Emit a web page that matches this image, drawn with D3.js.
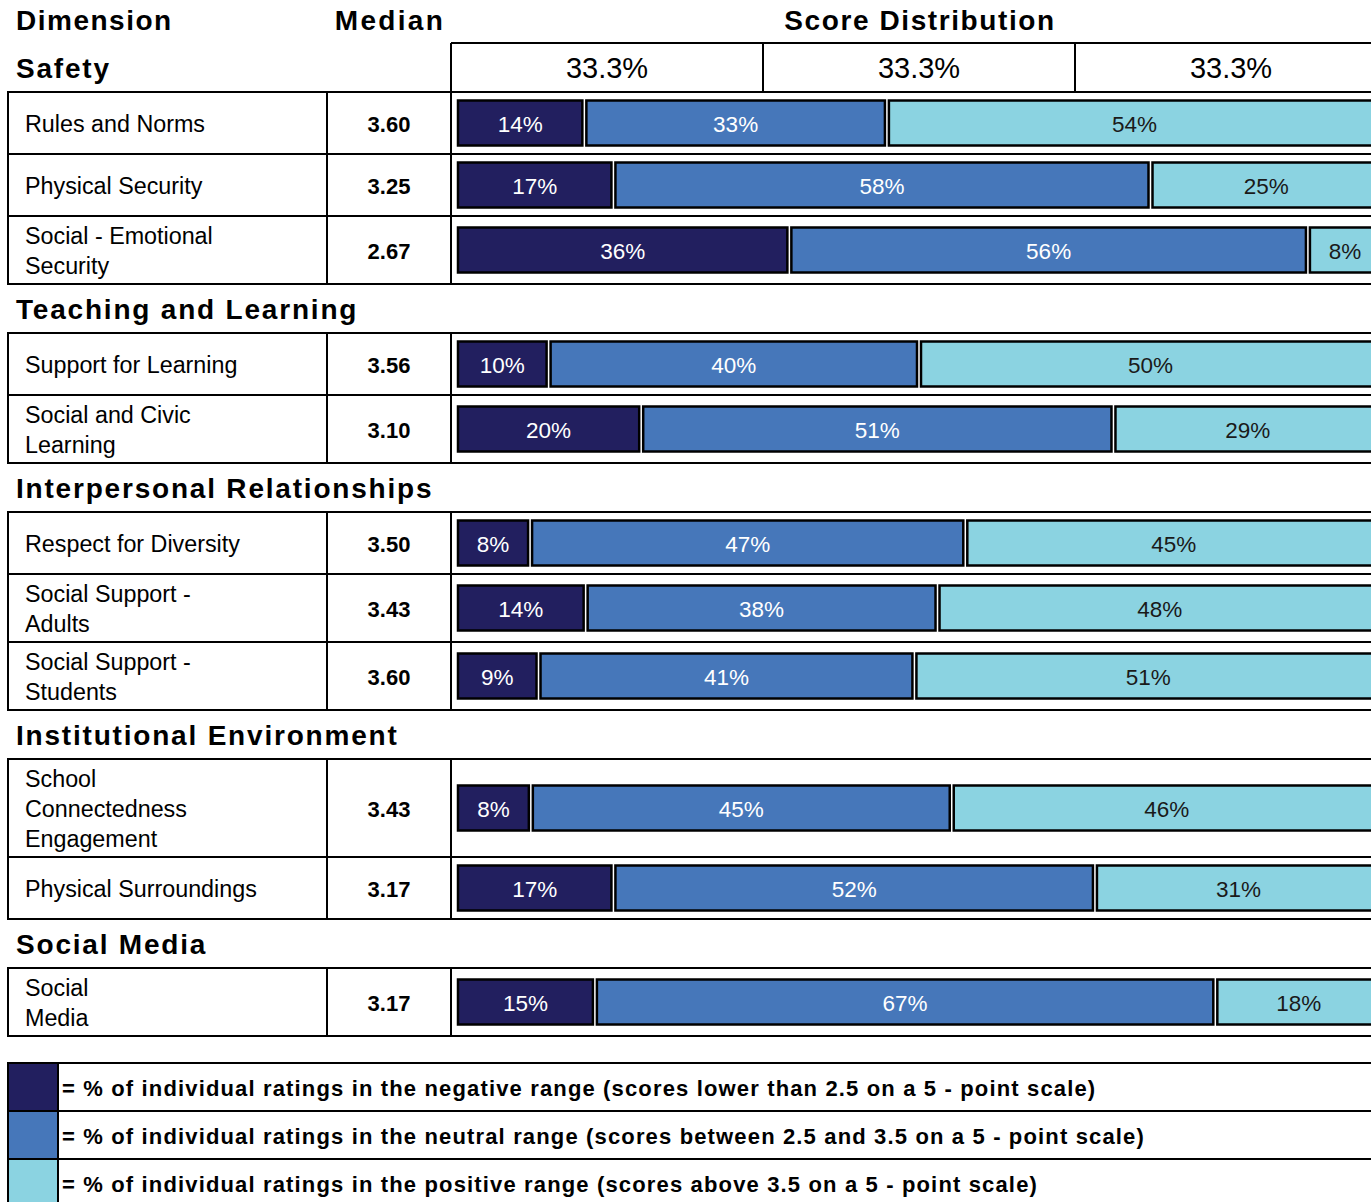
<!DOCTYPE html>
<html>
<head>
<meta charset="utf-8">
<script src="https://cdn.jsdelivr.net/npm/d3@7"></script>
<style>
  body { margin: 0; background: #fff; }
  svg text { font-family: "Liberation Sans", Arial, sans-serif; }
</style>
</head>
<body>
<svg width="1371" height="1202"></svg>
<script>
// chart values
let sections = ["Safety", "Teaching and Learning", "Interpersonal Relationships",
                "Institutional Environment", "Social Media"];
let dimensions = ["Rules and Norms", "Physical Security", "Social - Emotional\nSecurity",
                  "Support for Learning", "Social and Civic\nLearning",
                  "Respect for Diversity", "Social Support -\nAdults", "Social Support -\nStudents",
                  "School\nConnectedness\nEngagement", "Physical Surroundings",
                  "Social\nMedia"];
let dimSection = [0, 0, 0, 1, 1, 2, 2, 2, 3, 3, 4];
let medians = ["3.60", "3.25", "2.67", "3.56", "3.10", "3.50", "3.43", "3.60", "3.43", "3.17", "3.17"];
let negative = [14, 17, 36, 10, 20, 8, 14, 9, 8, 17, 15];
let neutral  = [33, 58, 56, 40, 51, 47, 38, 41, 45, 52, 67];
let positive = [54, 25, 8, 50, 29, 45, 48, 51, 46, 31, 18];
let headerShares = ["33.3%", "33.3%", "33.3%"];
let legendLabels = [
  "= % of individual ratings in the negative range (scores lower than 2.5 on a 5 - point scale)",
  "= % of individual ratings in the neutral range (scores between 2.5 and 3.5 on a 5 - point scale)",
  "= % of individual ratings in the positive range (scores above 3.5 on a 5 - point scale)"
];

var keys = ["neg", "neu", "pos"];
var color = d3.scaleOrdinal().domain(keys).range(["#221f5f", "#4677ba", "#8bd3e1"]);
var textColor = d3.scaleOrdinal().domain(keys).range(["#fff", "#fff", "#1a1a1a"]);

var svg = d3.select("svg"),
    width = +svg.attr("width");

var leftX = 8, medX = 327, barX = 451;

let rows = dimensions.map((d, i) => ({
  label: d, section: dimSection[i], median: medians[i],
  neg: negative[i], neu: neutral[i], pos: positive[i]
}));

let stacked = d3.stack().keys(keys).offset(d3.stackOffsetExpand)(rows);

let x = d3.scaleLinear().domain([0, 1]).range([456, 1382]);

// row heights follow line count
function rowHeight(label){
  let n = label.split("\n").length;
  return n == 1 ? 62 : (n == 2 ? 68 : 98);
}

// layout rows
let y = 92;
let headings = [];
let tables = [];
rows.forEach((r, i) => {
  if(i == 0 || r.section != rows[i - 1].section){
    if(i > 0){
      tables[tables.length - 1].bottom = y;
      y += 49;
    }
    headings.push({name: sections[r.section], y: y - 14});
    tables.push({top: y});
  }
  r.top = y;
  r.h = rowHeight(r.label);
  y += r.h;
});
tables[tables.length - 1].bottom = y;

// title row
svg.append("text").attr("x", 16).attr("y", 30)
    .attr("font-size", 28).attr("font-weight", "bold").attr("letter-spacing", 1.5)
    .text("Dimension");
svg.append("text").attr("x", 390).attr("y", 30).attr("text-anchor", "middle")
    .attr("font-size", 28).attr("font-weight", "bold").attr("letter-spacing", 2.3)
    .text("Median");
svg.append("text").attr("x", 920).attr("y", 30).attr("text-anchor", "middle")
    .attr("font-size", 28).attr("font-weight", "bold").attr("letter-spacing", 1.6)
    .text("Score Distribution");

// header share boxes
let shareX = d3.scaleBand().domain(d3.range(headerShares.length)).range([barX, barX + 936]);
let hdr = svg.append("g").attr("class", "header");
hdr.append("line").attr("x1", barX).attr("x2", width).attr("y1", 43).attr("y2", 43)
    .attr("stroke", "#000").attr("stroke-width", 2);
hdr.selectAll(".div").data(d3.range(headerShares.length))
    .enter().append("line")
    .attr("x1", d => shareX(d)).attr("x2", d => shareX(d))
    .attr("y1", 43).attr("y2", 92)
    .attr("stroke", "#000").attr("stroke-width", 2);
hdr.selectAll("text").data(headerShares)
    .enter().append("text")
    .attr("x", (d, i) => shareX(i) + shareX.bandwidth() / 2)
    .attr("y", 78)
    .attr("text-anchor", "middle")
    .attr("font-size", 29)
    .text(d => d);

// section headings
svg.append("g").selectAll("text").data(headings)
    .enter().append("text")
    .attr("x", 16).attr("y", d => d.y)
    .attr("font-size", 28).attr("font-weight", "bold").attr("letter-spacing", 1.8)
    .text(d => d.name);

// table grid
let grid = svg.append("g").attr("class", "grid")
    .attr("stroke", "#000").attr("stroke-width", 2);
tables.forEach(t => {
  [leftX, medX, barX].forEach(vx => {
    grid.append("line").attr("x1", vx).attr("x2", vx)
        .attr("y1", t.top).attr("y2", t.bottom);
  });
});
rows.forEach((r, i) => {
  grid.append("line").attr("x1", leftX - 1).attr("x2", width)
      .attr("y1", r.top).attr("y2", r.top);
  grid.append("line").attr("x1", leftX - 1).attr("x2", width)
      .attr("y1", r.top + r.h).attr("y2", r.top + r.h);
});

// row labels
let labels = svg.append("g").selectAll("text").data(rows)
    .enter().append("text")
    .attr("font-size", 23.3);
labels.each(function(r){
  let lines = r.label.split("\n");
  let cy = r.top + r.h / 2;
  d3.select(this).selectAll("tspan").data(lines)
    .enter().append("tspan")
    .attr("x", 25)
    .attr("y", (l, j) => cy + 8.5 + (j - (lines.length - 1) / 2) * 30)
    .text(l => l);
});

// medians
svg.append("g").selectAll("text").data(rows)
    .enter().append("text")
    .attr("x", 389).attr("y", r => r.top + r.h / 2 + 8.5)
    .attr("text-anchor", "middle")
    .attr("font-size", 22).attr("font-weight", "bold")
    .text(r => r.median);

// stacked bars
let barH = 45;
let layer = svg.append("g").attr("class", "bars")
    .selectAll("g").data(stacked)
    .enter().append("g");
layer.selectAll("rect").data(s => s.map(d => ({key: s.key, d: d})))
    .enter().append("rect")
    .attr("x", p => x(p.d[0]) + 2)
    .attr("width", p => x(p.d[1]) - x(p.d[0]) - 4)
    .attr("y", p => p.d.data.top + p.d.data.h / 2 - barH / 2)
    .attr("height", barH)
    .attr("fill", p => color(p.key))
    .attr("stroke", "#000")
    .attr("stroke-width", 2.5);
layer.selectAll("text").data(s => s.map(d => ({key: s.key, d: d})))
    .enter().append("text")
    .attr("x", p => (x(p.d[0]) + x(p.d[1])) / 2)
    .attr("y", p => p.d.data.top + p.d.data.h / 2 + 8.5)
    .attr("text-anchor", "middle")
    .attr("font-size", 22.5)
    .attr("fill", p => textColor(p.key))
    .text(p => p.d.data[p.key] + "%");

// legend
let legTop = tables[tables.length - 1].bottom + 27, legH = 48;
let legend = svg.append("g").attr("class", "legend");
legend.selectAll("rect").data(keys)
    .enter().append("rect")
    .attr("x", leftX).attr("width", 50)
    .attr("y", (k, i) => legTop + i * legH).attr("height", legH)
    .attr("fill", k => color(k));
legend.selectAll(".hl").data(d3.range(keys.length + 1))
    .enter().append("line")
    .attr("x1", leftX - 1).attr("x2", width)
    .attr("y1", i => legTop + i * legH).attr("y2", i => legTop + i * legH)
    .attr("stroke", "#000").attr("stroke-width", 2);
[leftX, 58].forEach(vx => {
  legend.append("line").attr("x1", vx).attr("x2", vx)
      .attr("y1", legTop).attr("y2", legTop + keys.length * legH)
      .attr("stroke", "#000").attr("stroke-width", 2);
});
legend.selectAll("text").data(legendLabels)
    .enter().append("text")
    .attr("x", 62)
    .attr("y", (d, i) => legTop + i * legH + legH / 2 + 9)
    .attr("font-size", 22).attr("font-weight", "bold").attr("letter-spacing", 1.15)
    .text(d => d);
</script>
</body>
</html>
